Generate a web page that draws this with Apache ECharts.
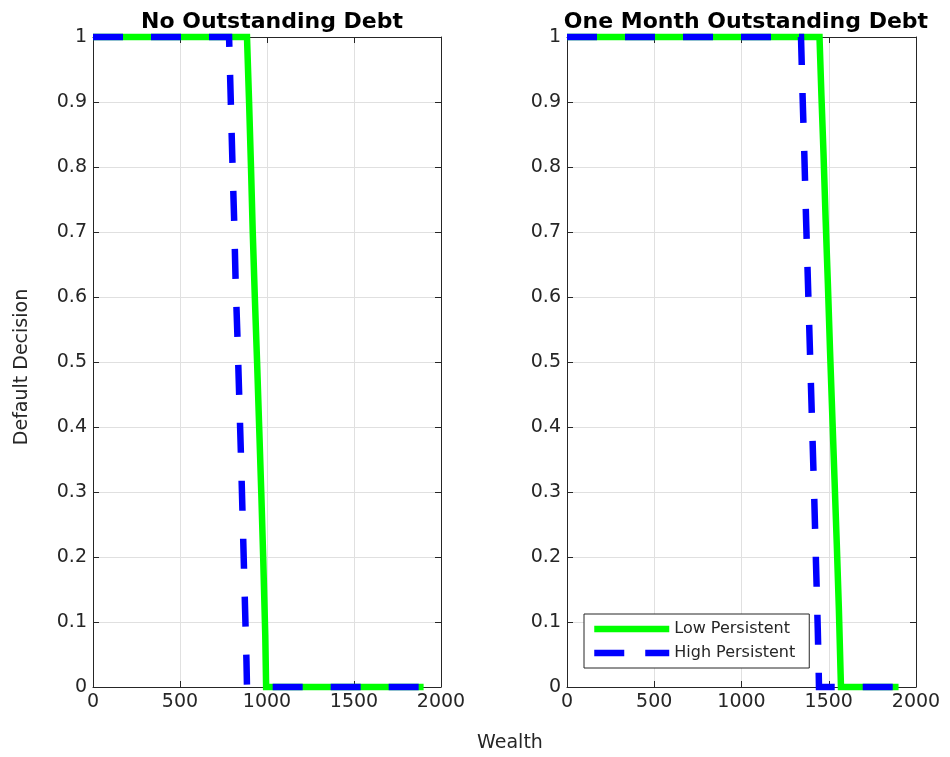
<!DOCTYPE html>
<html>
<head>
<meta charset="utf-8">
<script src="https://cdn.jsdelivr.net/npm/echarts@6/dist/echarts.min.js"></script>
<style>
  html, body { margin: 0; padding: 0; background: #fff; }
  #chart { width: 950px; height: 757px; }
</style>
</head>
<body>
<div id="chart"></div>
<script>
// Panel titles
const panelTitles = ['No Outstanding Debt', 'One Month Outstanding Debt'];
const seriesNames = ['Low Persistent', 'High Persistent'];

// Axis ticks
const xTicks = [0, 500, 1000, 1500, 2000];
const yTicks = [0, 0.1, 0.2, 0.3, 0.4, 0.5, 0.6, 0.7, 0.8, 0.9, 1];

// No outstanding debt: wealth grid and default probability
const noDebtLowWealth  = [0, 885, 897, 908, 918, 930, 943, 955, 967, 978, 990, 995, 1900];
const noDebtLowValue   = [1, 1,   0.9, 0.8, 0.7, 0.6, 0.5, 0.4, 0.3, 0.2, 0.08, 0, 0];
const noDebtHighWealth = [0, 782, 790, 800, 811, 820, 830, 840, 851, 862, 873, 882, 885, 1900];
const noDebtHighValue  = [1, 1,   0.92, 0.82, 0.72, 0.62, 0.54, 0.45, 0.35, 0.24, 0.13, 0.04, 0, 0];

// One month outstanding debt
const oneMonthLowWealth  = [0, 1447, 1458, 1470, 1482, 1495, 1507, 1520, 1533, 1546, 1558, 1568, 1570, 1900];
const oneMonthLowValue   = [1, 1,    0.91, 0.82, 0.72, 0.62, 0.52, 0.42, 0.32, 0.22, 0.12, 0.02, 0, 0];
const oneMonthHighWealth = [0, 1341, 1350, 1360, 1370, 1381, 1393, 1405, 1416, 1427, 1437, 1442, 1444, 1900];
const oneMonthHighValue  = [1, 1,    0.91, 0.82, 0.72, 0.62, 0.51, 0.40, 0.30, 0.19, 0.09, 0.03, 0, 0];

const pair = (xs, ys) => xs.map((x, i) => [x, ys[i]]);

const FONT = 'DejaVu Sans';
const AXIS = '#262626';
const GRIDLINE = '#e0e0e0';
const GREEN = '#00ff00';
const BLUE = '#0000ff';
const LW = 6.5;
const DASH = [30, 28];

const grids = [
  { left: 93, top: 37, width: 348, height: 650 },
  { left: 567, top: 37, width: 349, height: 650 }
];

function fmtY(v) {
  if (Math.abs(v) < 1e-9) return '0';
  if (Math.abs(v - 1) < 1e-9) return '1';
  return v.toFixed(1);
}

const xAxes = [];
const yAxes = [];
grids.forEach((g, gi) => {
  // bottom axis with labels and grid lines
  xAxes.push({
    type: 'value', gridIndex: gi, min: 0, max: 2000, interval: 500, position: 'bottom',
    axisLine: { show: true, onZero: false, lineStyle: { color: AXIS, width: 1 } },
    axisTick: { show: true, inside: true, length: 6, lineStyle: { color: AXIS } },
    axisLabel: { show: true, margin: 6, color: AXIS, fontFamily: FONT, fontSize: 19,
      formatter: v => String(xTicks.find(t => t === v) ?? v) },
    splitLine: { show: true, lineStyle: { color: GRIDLINE, width: 1 } }
  });
  // top box edge
  xAxes.push({
    type: 'value', gridIndex: gi, min: 0, max: 2000, interval: 500, position: 'top',
    axisLine: { show: true, onZero: false, lineStyle: { color: AXIS, width: 1 } },
    axisTick: { show: true, inside: true, length: 6, lineStyle: { color: AXIS } },
    axisLabel: { show: false }, splitLine: { show: false }
  });
  yAxes.push({
    type: 'value', gridIndex: gi, min: 0, max: 1, interval: 0.1, position: 'left',
    axisLine: { show: true, onZero: false, lineStyle: { color: AXIS, width: 1 } },
    axisTick: { show: true, inside: true, length: 6, lineStyle: { color: AXIS } },
    axisLabel: { show: true, margin: 6, color: AXIS, fontFamily: FONT, fontSize: 19,
      formatter: v => fmtY(yTicks.reduce((a, t) => Math.abs(t - v) < Math.abs(a - v) ? t : a, 0)) },
    splitLine: { show: true, lineStyle: { color: GRIDLINE, width: 1 } }
  });
  // right box edge
  yAxes.push({
    type: 'value', gridIndex: gi, min: 0, max: 1, interval: 0.1, position: 'right',
    axisLine: { show: true, onZero: false, lineStyle: { color: AXIS, width: 1 } },
    axisTick: { show: true, inside: true, length: 6, lineStyle: { color: AXIS } },
    axisLabel: { show: false }, splitLine: { show: false }
  });
});

function lineSeries(name, data, gi, color, dashed) {
  return {
    name, type: 'line', xAxisIndex: gi * 2, yAxisIndex: gi * 2,
    data, symbol: 'none', showSymbol: false, clip: false, animation: false,
    itemStyle: { color },
    lineStyle: { color, width: LW, type: dashed ? DASH : 'solid', cap: 'butt', join: 'miter' },
    z: dashed ? 3 : 2
  };
}

const option = {
  backgroundColor: '#ffffff',
  animation: false,
  title: [
    { text: panelTitles[0], left: 267, top: 6, textAlign: 'center',
      textStyle: { fontFamily: FONT, fontSize: 22, fontWeight: 'bold', color: '#000' } },
    { text: panelTitles[1], left: 741, top: 6, textAlign: 'center',
      textStyle: { fontFamily: FONT, fontSize: 22, fontWeight: 'bold', color: '#000' } }
  ],
  grid: grids,
  xAxis: xAxes,
  yAxis: yAxes,
  legend: {
    orient: 'vertical', left: 584, top: 614,
    padding: [7, 14, 7, 7], itemGap: 8, itemWidth: 75, itemHeight: 16,
    backgroundColor: '#ffffff', borderColor: AXIS, borderWidth: 1, borderRadius: 0,
    textStyle: { fontFamily: FONT, fontSize: 16, color: AXIS },
    itemStyle: { opacity: 0, borderWidth: 0 },
    lineStyle: { width: LW },
    data: [
      { name: seriesNames[0] },
      { name: seriesNames[1], lineStyle: { type: [30, 21], width: LW } }
    ]
  },
  graphic: [
    { type: 'text', position: [22, 367], rotation: Math.PI / 2,
      style: { text: 'Default Decision', fontFamily: FONT, fontSize: 19, fill: AXIS,
        align: 'center', verticalAlign: 'middle' } },
    { type: 'text', position: [510, 743],
      style: { text: 'Wealth', fontFamily: FONT, fontSize: 19, fill: AXIS,
        align: 'center', verticalAlign: 'middle' } }
  ],
  series: [
    lineSeries(seriesNames[0], pair(noDebtLowWealth, noDebtLowValue), 0, GREEN, false),
    lineSeries(seriesNames[1], pair(noDebtHighWealth, noDebtHighValue), 0, BLUE, true),
    lineSeries(seriesNames[0], pair(oneMonthLowWealth, oneMonthLowValue), 1, GREEN, false),
    lineSeries(seriesNames[1], pair(oneMonthHighWealth, oneMonthHighValue), 1, BLUE, true)
  ]
};

const chart = echarts.init(document.getElementById('chart'), null, { renderer: 'canvas' });
chart.setOption(option);
</script>
</body>
</html>
